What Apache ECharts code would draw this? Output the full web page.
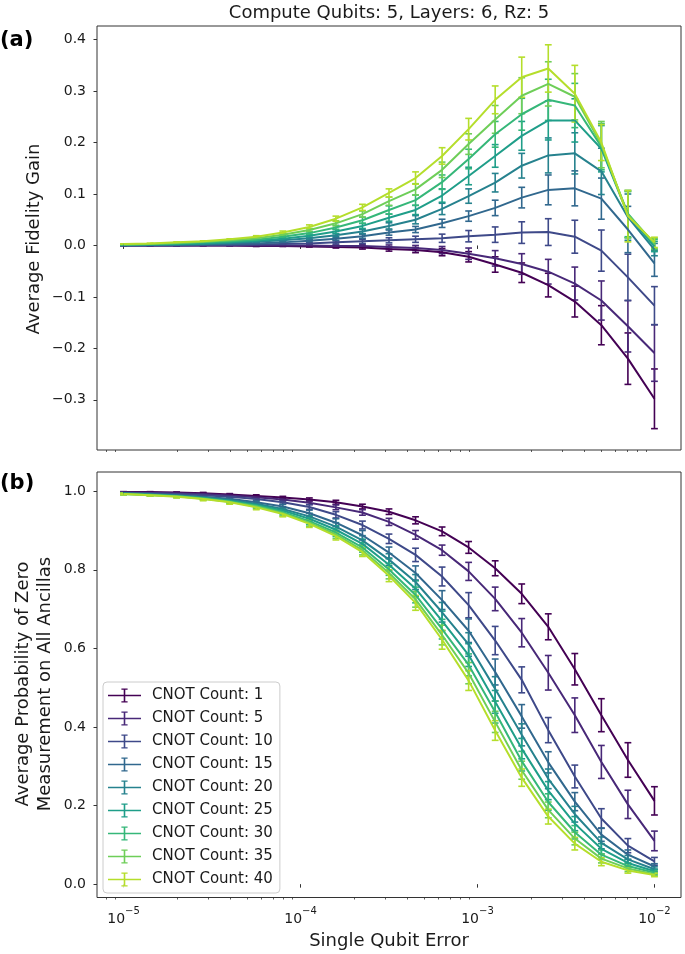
<!DOCTYPE html>
<html><head><meta charset="utf-8">
<script src="https://cdn.jsdelivr.net/npm/echarts@6/dist/echarts.min.js"></script>
<style>html,body{margin:0;padding:0;background:#fff}#c{width:685px;height:954px}</style>
</head><body><div id="c"></div>
<script>
// log10 of the single qubit error at each sample point
const xExp = [-5, -4.85, -4.7, -4.55, -4.4, -4.25, -4.1, -3.95, -3.8, -3.65, -3.5, -3.35, -3.2, -3.05, -2.9, -2.75, -2.6, -2.45, -2.3, -2.15, -2];
const cnotCounts = [1, 5, 10, 15, 20, 25, 30, 35, 40];

// (a) Average Fidelity Gain
const gain1  = [0.000, 0.000, 0.000, 0.000, 0.000, -0.001, -0.001, -0.002, -0.003, -0.004, -0.007, -0.009, -0.013, -0.022, -0.037, -0.053, -0.077, -0.109, -0.155, -0.220, -0.298];
const gain5  = [0.000, 0.000, 0.000, 0.000, 0.000, 0.000, 0.000, 0.000, -0.001, -0.001, -0.003, -0.005, -0.009, -0.016, -0.025, -0.036, -0.051, -0.074, -0.107, -0.157, -0.209];
const gain10 = [0.000, 0.000, 0.000, 0.001, 0.001, 0.002, 0.003, 0.004, 0.006, 0.008, 0.010, 0.012, 0.014, 0.018, 0.021, 0.025, 0.026, 0.017, -0.010, -0.062, -0.117];
const gain15 = [0.000, 0.001, 0.001, 0.002, 0.003, 0.004, 0.006, 0.009, 0.013, 0.018, 0.025, 0.031, 0.043, 0.057, 0.073, 0.093, 0.108, 0.111, 0.091, 0.031, -0.035];
const gain20 = [0.001, 0.001, 0.002, 0.003, 0.005, 0.007, 0.010, 0.014, 0.020, 0.027, 0.038, 0.050, 0.071, 0.096, 0.122, 0.155, 0.175, 0.179, 0.144, 0.055, -0.008];
const gain25 = [0.001, 0.002, 0.003, 0.004, 0.006, 0.009, 0.013, 0.019, 0.027, 0.038, 0.054, 0.069, 0.097, 0.135, 0.174, 0.213, 0.243, 0.243, 0.188, 0.060, -0.002];
const gain30 = [0.002, 0.003, 0.004, 0.006, 0.008, 0.011, 0.017, 0.024, 0.035, 0.049, 0.069, 0.088, 0.123, 0.168, 0.216, 0.255, 0.283, 0.272, 0.192, 0.062, 0.002];
const gain35 = [0.002, 0.003, 0.005, 0.007, 0.010, 0.014, 0.021, 0.030, 0.043, 0.061, 0.086, 0.109, 0.147, 0.197, 0.245, 0.291, 0.314, 0.289, 0.196, 0.060, 0.004];
const gain40 = [0.003, 0.004, 0.006, 0.008, 0.012, 0.017, 0.025, 0.036, 0.052, 0.074, 0.102, 0.131, 0.174, 0.226, 0.283, 0.327, 0.344, 0.295, 0.200, 0.057, 0.006];

const gainErr1  = [0, 0, 0, 0, 0, 0.001, 0.001, 0.001, 0.002, 0.003, 0.004, 0.005, 0.007, 0.010, 0.015, 0.019, 0.023, 0.030, 0.038, 0.050, 0.058];
const gainErr5  = [0, 0, 0, 0, 0, 0.001, 0.001, 0.001, 0.002, 0.003, 0.004, 0.005, 0.007, 0.011, 0.015, 0.020, 0.024, 0.032, 0.038, 0.050, 0.055];
const gainErr10 = [0, 0, 0, 0, 0.001, 0.001, 0.001, 0.002, 0.003, 0.004, 0.005, 0.006, 0.008, 0.011, 0.015, 0.021, 0.026, 0.032, 0.040, 0.045, 0.037];
const gainErr15 = [0, 0, 0, 0.001, 0.001, 0.001, 0.002, 0.002, 0.003, 0.004, 0.005, 0.006, 0.008, 0.010, 0.015, 0.020, 0.029, 0.034, 0.040, 0.045, 0.025];
const gainErr20 = [0, 0, 0, 0.001, 0.001, 0.001, 0.002, 0.002, 0.003, 0.004, 0.006, 0.008, 0.011, 0.014, 0.018, 0.024, 0.034, 0.040, 0.045, 0.045, 0.012];
const gainErr25 = [0, 0, 0, 0.001, 0.001, 0.002, 0.002, 0.003, 0.004, 0.005, 0.007, 0.009, 0.013, 0.017, 0.022, 0.028, 0.038, 0.042, 0.045, 0.045, 0.010];
const gainErr30 = [0, 0, 0, 0.001, 0.001, 0.002, 0.002, 0.003, 0.004, 0.006, 0.008, 0.010, 0.014, 0.019, 0.025, 0.031, 0.040, 0.043, 0.045, 0.045, 0.010];
const gainErr35 = [0, 0, 0, 0.001, 0.001, 0.002, 0.003, 0.003, 0.005, 0.006, 0.008, 0.011, 0.015, 0.020, 0.027, 0.035, 0.043, 0.045, 0.045, 0.045, 0.010];
const gainErr40 = [0, 0, 0.001, 0.001, 0.001, 0.002, 0.003, 0.004, 0.005, 0.006, 0.008, 0.012, 0.016, 0.021, 0.027, 0.039, 0.046, 0.055, 0.035, 0.050, 0.010];

// (b) Average Probability of Zero Measurement on All Ancillas
const prob1  = [0.998, 0.998, 0.997, 0.995, 0.992, 0.988, 0.984, 0.979, 0.972, 0.961, 0.948, 0.926, 0.898, 0.857, 0.804, 0.739, 0.655, 0.547, 0.430, 0.316, 0.212];
const prob5  = [0.997, 0.996, 0.995, 0.993, 0.989, 0.985, 0.979, 0.971, 0.959, 0.946, 0.922, 0.889, 0.850, 0.796, 0.726, 0.640, 0.538, 0.430, 0.311, 0.203, 0.110];
const prob10 = [0.996, 0.995, 0.993, 0.990, 0.986, 0.980, 0.972, 0.960, 0.940, 0.914, 0.879, 0.838, 0.783, 0.710, 0.620, 0.520, 0.392, 0.274, 0.167, 0.098, 0.058];
const prob15 = [0.995, 0.993, 0.990, 0.986, 0.981, 0.972, 0.961, 0.944, 0.920, 0.888, 0.844, 0.792, 0.723, 0.645, 0.540, 0.427, 0.310, 0.210, 0.126, 0.075, 0.045];
const prob20 = [0.994, 0.992, 0.989, 0.984, 0.978, 0.968, 0.955, 0.936, 0.910, 0.875, 0.826, 0.769, 0.692, 0.610, 0.497, 0.380, 0.268, 0.178, 0.105, 0.063, 0.038];
const prob25 = [0.994, 0.991, 0.988, 0.983, 0.976, 0.965, 0.951, 0.930, 0.902, 0.866, 0.813, 0.752, 0.670, 0.583, 0.464, 0.345, 0.238, 0.154, 0.090, 0.054, 0.033];
const prob30 = [0.993, 0.991, 0.987, 0.982, 0.974, 0.963, 0.947, 0.924, 0.895, 0.857, 0.801, 0.736, 0.649, 0.558, 0.438, 0.313, 0.209, 0.132, 0.075, 0.046, 0.029];
const prob35 = [0.993, 0.990, 0.987, 0.981, 0.973, 0.961, 0.944, 0.920, 0.890, 0.850, 0.792, 0.725, 0.634, 0.537, 0.413, 0.290, 0.189, 0.116, 0.065, 0.040, 0.025];
const prob40 = [0.993, 0.990, 0.986, 0.980, 0.972, 0.959, 0.942, 0.917, 0.886, 0.845, 0.785, 0.716, 0.622, 0.518, 0.391, 0.271, 0.172, 0.103, 0.057, 0.035, 0.023];

const probErr1  = [0.001, 0.001, 0.001, 0.002, 0.002, 0.003, 0.003, 0.004, 0.005, 0.006, 0.007, 0.009, 0.011, 0.015, 0.019, 0.025, 0.033, 0.040, 0.042, 0.044, 0.036];
const probErr5  = [0.001, 0.001, 0.002, 0.002, 0.003, 0.003, 0.004, 0.005, 0.006, 0.007, 0.009, 0.011, 0.013, 0.023, 0.030, 0.036, 0.044, 0.044, 0.042, 0.036, 0.025];
const probErr10 = [0.001, 0.001, 0.002, 0.002, 0.003, 0.004, 0.005, 0.006, 0.008, 0.010, 0.012, 0.017, 0.024, 0.032, 0.036, 0.033, 0.032, 0.029, 0.025, 0.018, 0.010];
const probErr15 = [0.001, 0.002, 0.002, 0.003, 0.004, 0.005, 0.006, 0.008, 0.010, 0.012, 0.014, 0.018, 0.024, 0.030, 0.033, 0.030, 0.027, 0.023, 0.017, 0.012, 0.007];
const probErr20 = [0.001, 0.002, 0.002, 0.003, 0.004, 0.005, 0.006, 0.008, 0.010, 0.012, 0.015, 0.019, 0.025, 0.030, 0.031, 0.028, 0.025, 0.020, 0.015, 0.010, 0.006];
const probErr25 = [0.002, 0.002, 0.003, 0.003, 0.004, 0.005, 0.007, 0.008, 0.010, 0.012, 0.015, 0.020, 0.025, 0.029, 0.029, 0.026, 0.023, 0.018, 0.013, 0.009, 0.005];
const probErr30 = [0.002, 0.002, 0.003, 0.003, 0.004, 0.006, 0.007, 0.009, 0.010, 0.012, 0.015, 0.020, 0.025, 0.028, 0.028, 0.025, 0.021, 0.017, 0.012, 0.008, 0.005];
const probErr35 = [0.002, 0.002, 0.003, 0.004, 0.005, 0.006, 0.007, 0.009, 0.010, 0.012, 0.015, 0.020, 0.025, 0.027, 0.027, 0.023, 0.020, 0.016, 0.011, 0.008, 0.004];
const probErr40 = [0.002, 0.002, 0.003, 0.004, 0.005, 0.006, 0.007, 0.009, 0.010, 0.011, 0.015, 0.019, 0.024, 0.025, 0.025, 0.022, 0.019, 0.016, 0.010, 0.007, 0.004];

// axis ticks
const xMajorTicks = [-5, -4, -3, -2];
const xMinorMantissas = [2, 3, 4, 5, 6, 7, 8, 9];
const gainTicks = [-0.3, -0.2, -0.1, 0.0, 0.1, 0.2, 0.3, 0.4];
const probTicks = [0.0, 0.2, 0.4, 0.6, 0.8, 1.0];

const titleText = 'Compute Qubits: 5, Layers: 6, Rz: 5';

// ---------------------------------------------------------------
const gainVals = [gain1, gain5, gain10, gain15, gain20, gain25, gain30, gain35, gain40];
const gainErrs = [gainErr1, gainErr5, gainErr10, gainErr15, gainErr20, gainErr25, gainErr30, gainErr35, gainErr40];
const probVals = [prob1, prob5, prob10, prob15, prob20, prob25, prob30, prob35, prob40];
const probErrs = [probErr1, probErr5, probErr10, probErr15, probErr20, probErr25, probErr30, probErr35, probErr40];
const colors = ['#440154', '#482878', '#3e4989', '#31688e', '#26828e', '#1f9e89', '#35b779', '#6ece58', '#b5de2b'];
const names = cnotCounts.map(n => 'CNOT Count: ' + n);

const FONT = 'DejaVu Sans';
const TXT = '#1a1a1a';
const FRAME = '#333333';

const xMinorTicks = [];
for (let e = -6; e <= -3; e++) {
  xMinorMantissas.forEach(m => {
    const v = Math.log10(m) + e;
    if (v > -5.15 && v < -1.85) xMinorTicks.push(v);
  });
}

function errRender(color) {
  return function (params, api) {
    const x = api.value(0), y = api.value(1), e = api.value(2);
    const t = api.coord([x, y + e]);
    const b = api.coord([x, y - e]);
    const cw = 3.4;
    const st = { stroke: color, lineWidth: 1.6 };
    return {
      type: 'group',
      children: [
        { type: 'line', shape: { x1: t[0], y1: t[1], x2: b[0], y2: b[1] }, style: st },
        { type: 'line', shape: { x1: t[0] - cw, y1: t[1], x2: t[0] + cw, y2: t[1] }, style: st },
        { type: 'line', shape: { x1: b[0] - cw, y1: b[1], x2: b[0] + cw, y2: b[1] }, style: st }
      ]
    };
  };
}

const series = [];
function addPanel(gi, vals, errs) {
  vals.forEach((arr, i) => {
    series.push({
      type: 'line', name: names[i], xAxisIndex: gi * 2, yAxisIndex: gi,
      data: xExp.map((x, k) => [x, arr[k]]),
      showSymbol: false, symbol: 'none', silent: true,
      lineStyle: { color: colors[i], width: 2 }, itemStyle: { color: colors[i] },
      z: 2
    });
    series.push({
      type: 'custom', name: names[i], xAxisIndex: gi * 2, yAxisIndex: gi,
      data: xExp.map((x, k) => [x, arr[k], errs[i][k]]),
      encode: { x: 0, y: 1 }, renderItem: errRender(colors[i]), silent: true,
      itemStyle: { color: colors[i] }, z: 2
    });
  });
}
addPanel(0, gainVals, gainErrs);
addPanel(1, probVals, probErrs);

const grids = [
  { left: 97, width: 584, top: 26, height: 424 },
  { left: 97, width: 584, top: 472, height: 425.5 }
];

function xAxes(gi, showLabels) {
  return [
    {
      type: 'value', gridIndex: gi, position: 'bottom', min: -5.15, max: -1.85,
      axisLine: { show: false }, splitLine: { show: false },
      axisTick: { show: true, length: 3.5, customValues: xMajorTicks, lineStyle: { color: FRAME, width: 1 } },
      axisLabel: {
        show: showLabels, customValues: xMajorTicks, margin: 9,
        formatter: v => '{b|10}{s|\u2212' + Math.round(-v) + '}',
        rich: {
          b: { fontSize: 14, fontFamily: FONT, color: TXT, lineHeight: 20, verticalAlign: 'bottom' },
          s: { fontSize: 10, fontFamily: FONT, color: TXT, lineHeight: 20, verticalAlign: 'top' }
        }
      }
    },
    {
      type: 'value', gridIndex: gi, position: 'bottom', min: -5.15, max: -1.85,
      axisLine: { show: false }, splitLine: { show: false },
      axisTick: { show: true, length: 2, customValues: xMinorTicks, lineStyle: { color: FRAME, width: 0.8 } },
      axisLabel: { show: false }
    }
  ];
}

function yAxis(gi, min, max, ticks) {
  return {
    type: 'value', gridIndex: gi, min: min, max: max,
    axisLine: { show: false }, splitLine: { show: false },
    axisTick: { show: true, length: 3.5, customValues: ticks, lineStyle: { color: FRAME, width: 1 } },
    axisLabel: {
      customValues: ticks, margin: 11, fontSize: 14, fontFamily: FONT, color: TXT,
      formatter: v => v.toFixed(1).replace('-', '\u2212')
    }
  };
}

const errIcon = 'path://M0,6.2H33V7.8H0Z M15.7,0H17.3V14H15.7Z M13.4,0H19.6V1.3H13.4Z M13.4,12.7H19.6V14H13.4Z';

const option = {
  animation: false,
  backgroundColor: '#ffffff',
  grid: grids.map(g => Object.assign({ show: true, borderColor: FRAME, borderWidth: 1, backgroundColor: 'transparent' }, g)),
  xAxis: xAxes(0, false).concat(xAxes(1, true)),
  yAxis: [yAxis(0, -0.3975, 0.4265, gainTicks), yAxis(1, -0.034, 1.049, probTicks)],
  legend: {
    orient: 'vertical', left: 103, top: 682,
    itemWidth: 33, itemHeight: 14, itemGap: 8,
    padding: [6, 7, 6, 5],
    backgroundColor: 'rgba(255,255,255,0.8)', borderColor: '#cccccc', borderWidth: 1, borderRadius: 4,
    selectedMode: false,
    textStyle: { fontSize: 15, fontFamily: FONT, color: TXT, lineHeight: 15, padding: [0, 0, 0, 6] },
    data: names.map((n, i) => ({ name: n, icon: errIcon, itemStyle: { color: colors[i], borderWidth: 0 } }))
  },
  graphic: [
    { type: 'text', x: 389, y: 13, style: { text: titleText, fontSize: 18, fontFamily: FONT, fill: TXT, textAlign: 'center', textVerticalAlign: 'middle' } },
    { type: 'text', x: 0, y: 41, style: { text: '(a)', fontSize: 21, fontWeight: 'bold', fontFamily: FONT, fill: '#000', textAlign: 'left', textVerticalAlign: 'middle' } },
    { type: 'text', x: 0, y: 484, style: { text: '(b)', fontSize: 21, fontWeight: 'bold', fontFamily: FONT, fill: '#000', textAlign: 'left', textVerticalAlign: 'middle' } },
    { type: 'text', x: 34, y: 239, rotation: Math.PI / 2, style: { text: 'Average Fidelity Gain', fontSize: 18, fontFamily: FONT, fill: TXT, textAlign: 'center', textVerticalAlign: 'middle' } },
    { type: 'text', x: 34, y: 684, rotation: Math.PI / 2, style: { text: 'Average Probability of Zero\nMeasurement on All Ancillas', fontSize: 18, lineHeight: 22, fontFamily: FONT, fill: TXT, textAlign: 'center', textVerticalAlign: 'middle' } },
    { type: 'text', x: 389, y: 941, style: { text: 'Single Qubit Error', fontSize: 18, fontFamily: FONT, fill: TXT, textAlign: 'center', textVerticalAlign: 'middle' } }
  ],
  series: series
};

const chart = echarts.init(document.getElementById('c'), null, { renderer: 'canvas' });
chart.setOption(option);
</script>
</body></html>
